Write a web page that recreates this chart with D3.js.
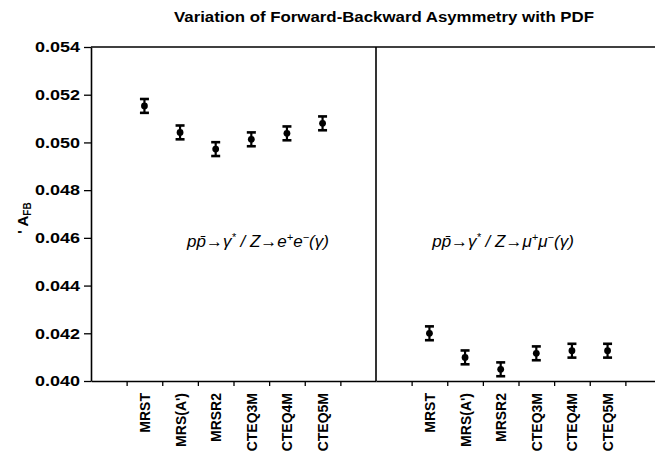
<!DOCTYPE html>
<html>
<head>
<meta charset="utf-8">
<script src="https://cdnjs.cloudflare.com/ajax/libs/d3/7.8.5/d3.min.js"></script>
<style>
  html, body { margin: 0; padding: 0; background: #fff; }
  svg { display: block; }
  text { font-family: "Liberation Sans", Arial, sans-serif; fill: #000; }
</style>
</head>
<body>
<div id="chart"></div>
<script>
const title = "Variation of Forward-Backward Asymmetry with PDF";
const categories = ["MRST", "MRS(A')", "MRSR2", "CTEQ3M", "CTEQ4M", "CTEQ5M"];
const eeValues   = [0.05153, 0.05042, 0.04972, 0.05013, 0.05038, 0.05080];
const eeErrors   = [0.00029, 0.00029, 0.00029, 0.00029, 0.00029, 0.00029];
const mumuValues = [0.04200, 0.04099, 0.04049, 0.04116, 0.04127, 0.04127];
const mumuErrors = [0.00029, 0.00029, 0.00029, 0.00029, 0.00029, 0.00029];
const yTicks = [0.040, 0.042, 0.044, 0.046, 0.048, 0.050, 0.052, 0.054];
const panels = [
  { name: "ee",   values: eeValues,   errors: eeErrors,   lepton: "e", labelX: 258 },
  { name: "mumu", values: mumuValues, errors: mumuErrors, lepton: "μ", labelX: 503 }
];

const W = 655, H = 465;
const mLeft = 91, mDivider = 376, mRight = 661, mTop = 47, mBottom = 381;

const svg = d3.select("#chart").append("svg").attr("width", W).attr("height", H);

const y = d3.scaleLinear().domain([0.040, 0.054]).range([mBottom, mTop]);

// title
svg.append("text").attr("x", 384).attr("y", 22).attr("text-anchor", "middle")
  .attr("font-size", 14.5).attr("font-weight", "bold")
  .attr("textLength", 420).attr("lengthAdjust", "spacingAndGlyphs").text(title);

// y axis
const yAxis = d3.axisLeft(y).tickValues(yTicks).tickFormat(d3.format(".3f"))
  .tickSize(7).tickSizeOuter(0);
const gy = svg.append("g").attr("transform", `translate(${mLeft},0)`).call(yAxis);
gy.select(".domain").attr("stroke", "#000").attr("stroke-width", 1.6);
gy.selectAll(".tick line").attr("stroke", "#000").attr("stroke-width", 1.3);
gy.selectAll(".tick text").attr("font-size", 15).attr("font-weight", "bold")
  .attr("font-family", "Liberation Sans, Arial, sans-serif").attr("x", -11).attr("fill", "#000")
  .attr("textLength", 45).attr("lengthAdjust", "spacingAndGlyphs");

// y axis title
const yt = svg.append("text").attr("transform", "translate(28,218) rotate(-90)")
  .attr("text-anchor", "middle").attr("font-size", 15).attr("font-weight", "bold");
yt.append("tspan").text("' A");
yt.append("tspan").attr("font-size", 10).attr("dy", 3).text("FB");

// top frame line
svg.append("line").attr("x1", mLeft).attr("x2", mRight).attr("y1", mTop).attr("y2", mTop)
  .attr("stroke", "#000").attr("stroke-width", 1.6);
// divider
svg.append("line").attr("x1", mDivider).attr("x2", mDivider).attr("y1", mTop).attr("y2", mBottom)
  .attr("stroke", "#000").attr("stroke-width", 1.6);

panels.forEach((p, pi) => {
  const x0 = pi === 0 ? mLeft : mDivider;
  const x1 = pi === 0 ? mDivider : mRight;
  const x = d3.scaleLinear().domain([0, 8]).range([x0, x1]);
  const slots = d3.range(1, 8);
  const xAxis = d3.axisBottom(x).tickValues(slots).tickFormat("").tickSize(5).tickSizeOuter(0);
  const gx = svg.append("g").attr("transform", `translate(0,${mBottom})`).call(xAxis);
  gx.select(".domain").attr("stroke", "#000").attr("stroke-width", 1.6);
  gx.selectAll(".tick line").attr("stroke", "#000").attr("stroke-width", 1.3);

  const cx = i => x(i + 1.5);

  // category labels
  svg.append("g").selectAll("text").data(categories).join("text")
    .attr("transform", (d, i) => `translate(${cx(i) + 5.5},${mBottom + 12}) rotate(-90)`)
    .attr("text-anchor", "end").attr("font-size", 14).attr("font-weight", "bold")
    .text(d => d);

  const g = svg.append("g");
  const pts = g.selectAll("g").data(p.values).join("g");
  pts.append("line").attr("x1", (d, i) => cx(i)).attr("x2", (d, i) => cx(i))
    .attr("y1", (d, i) => y(d - p.errors[i])).attr("y2", (d, i) => y(d + p.errors[i]))
    .attr("stroke", "#000").attr("stroke-width", 2.2);
  pts.append("line").attr("x1", (d, i) => cx(i) - 4.5).attr("x2", (d, i) => cx(i) + 4.5)
    .attr("y1", (d, i) => y(d - p.errors[i])).attr("y2", (d, i) => y(d - p.errors[i]))
    .attr("stroke", "#000").attr("stroke-width", 2.6);
  pts.append("line").attr("x1", (d, i) => cx(i) - 4.5).attr("x2", (d, i) => cx(i) + 4.5)
    .attr("y1", (d, i) => y(d + p.errors[i])).attr("y2", (d, i) => y(d + p.errors[i]))
    .attr("stroke", "#000").attr("stroke-width", 2.6);
  pts.append("circle").attr("cx", (d, i) => cx(i)).attr("cy", d => y(d)).attr("r", 3.4)
    .attr("fill", "#000");

  // reaction label
  const lab = svg.append("text")
    .attr("x", p.labelX).attr("y", 247)
    .attr("text-anchor", "middle")
    .attr("font-family", "Liberation Serif, Times New Roman, serif")
    .attr("font-style", "italic").attr("font-size", 17);
  const lepton = p.lepton;
  lab.append("tspan").text("pp̄→γ");
  lab.append("tspan").attr("dy", -6).attr("font-size", 11).text("*");
  lab.append("tspan").attr("dy", 6).text(" / Z→" + lepton);
  lab.append("tspan").attr("dy", -6).attr("font-size", 11).text("+");
  lab.append("tspan").attr("dy", 6).text(lepton);
  lab.append("tspan").attr("dy", -6).attr("font-size", 11).text("−");
  lab.append("tspan").attr("dy", 6).text("(γ)");
});
</script>
</body>
</html>
